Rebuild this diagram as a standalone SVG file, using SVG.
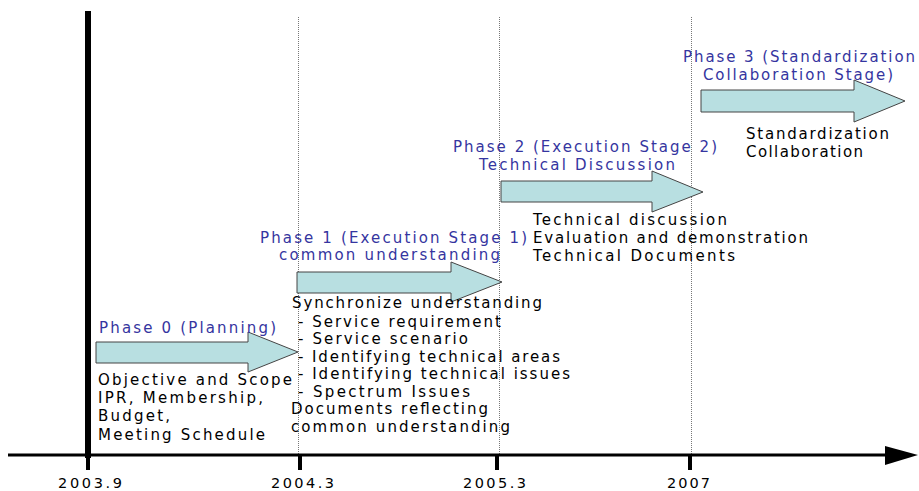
<svg xmlns="http://www.w3.org/2000/svg" width="919" height="491" viewBox="0 0 919 491">
<defs>
<style>
.t{font-family:"DejaVu Sans","Liberation Sans",sans-serif;font-size:15px;fill:#000}
.b{fill:#3535a0}
.d{font-size:14.5px}
.arr{fill:#b8dfe1;stroke:#444;stroke-width:1}
.dot{stroke:#777;stroke-width:1;stroke-dasharray:1 1;fill:none}
</style>
</defs>
<rect width="919" height="491" fill="#fff"/>
<g id="guides">
<line class="dot" x1="298.5" y1="17" x2="298.5" y2="455"/>
<line class="dot" x1="499.5" y1="17" x2="499.5" y2="455"/>
<line class="dot" x1="691.5" y1="17" x2="691.5" y2="455"/>
</g>
<g id="timeline">
<rect x="85" y="11" width="6" height="447" fill="#000"/>
<line x1="8" y1="455" x2="888" y2="455" stroke="#000" stroke-width="3"/>
<polygon points="885,446 918,455 885,465" fill="#000"/>
<rect x="86" y="455" width="4" height="15" fill="#000"/>
<rect x="298" y="455" width="4" height="15" fill="#000"/>
<rect x="495" y="455" width="4" height="15" fill="#000"/>
<rect x="688" y="455" width="4" height="15" fill="#000"/>
<text class="t d" x="58" y="488" textLength="64" lengthAdjust="spacing">2003.9</text>
<text class="t d" x="271" y="488" textLength="63" lengthAdjust="spacing">2004.3</text>
<text class="t d" x="463" y="488" textLength="63" lengthAdjust="spacing">2005.3</text>
<text class="t d" x="667" y="488" textLength="43" lengthAdjust="spacing">2007</text>
</g>
<g id="phase0">
<polygon class="arr" points="96,342 248,342 248,332 298,352 248,372 248,363 96,363"/>
<text class="t b" x="99" y="333" textLength="177" lengthAdjust="spacing">Phase 0 (Planning)</text>
<text class="t" x="98" y="385" textLength="194" lengthAdjust="spacing">Objective and Scope</text>
<text class="t" x="98" y="403" textLength="165" lengthAdjust="spacing">IPR, Membership,</text>
<text class="t" x="98" y="421" textLength="72" lengthAdjust="spacing">Budget,</text>
<text class="t" x="98" y="440" textLength="167" lengthAdjust="spacing">Meeting Schedule</text>
</g>
<g id="phase1">
<polygon class="arr" points="297,272 451,272 451,262 502,282 451,302 451,293 297,293"/>
<text class="t b" x="260" y="243" textLength="267" lengthAdjust="spacing">Phase 1 (Execution Stage 1)</text>
<text class="t b" x="279" y="260" textLength="221" lengthAdjust="spacing">common understanding</text>
<text class="t" x="292" y="308" textLength="250" lengthAdjust="spacing">Synchronize understanding</text>
<text class="t" x="298" y="327" textLength="203" lengthAdjust="spacing">- Service requirement</text>
<text class="t" x="298" y="344" textLength="170" lengthAdjust="spacing">- Service scenario</text>
<text class="t" x="298" y="362" textLength="262" lengthAdjust="spacing">- Identifying technical areas</text>
<text class="t" x="298" y="379" textLength="272" lengthAdjust="spacing">- Identifying technical issues</text>
<text class="t" x="298" y="397" textLength="172" lengthAdjust="spacing">- Spectrum Issues</text>
<text class="t" x="291" y="414" textLength="197" lengthAdjust="spacing">Documents reflecting</text>
<text class="t" x="291" y="432" textLength="219" lengthAdjust="spacing">common understanding</text>
</g>
<g id="phase2">
<polygon class="arr" points="501,181 652,181 652,171 703,192 652,212 652,202 501,202"/>
<text class="t b" x="453" y="152" textLength="264" lengthAdjust="spacing">Phase 2 (Execution Stage 2)</text>
<text class="t b" x="479" y="170" textLength="196" lengthAdjust="spacing">Technical Discussion</text>
<text class="t" x="533" y="225" textLength="194" lengthAdjust="spacing">Technical discussion</text>
<text class="t" x="533" y="243" textLength="275" lengthAdjust="spacing">Evaluation and demonstration</text>
<text class="t" x="533" y="261" textLength="202" lengthAdjust="spacing">Technical Documents</text>
</g>
<g id="phase3">
<polygon class="arr" points="701,90 854,90 854,80 905,101 854,122 854,112 701,112"/>
<text class="t b" x="683" y="62" textLength="232" lengthAdjust="spacing">Phase 3 (Standardization</text>
<text class="t b" x="703" y="80" textLength="190" lengthAdjust="spacing">Collaboration Stage)</text>
<text class="t" x="746" y="139" textLength="143" lengthAdjust="spacing">Standardization</text>
<text class="t" x="746" y="157" textLength="117" lengthAdjust="spacing">Collaboration</text>
</g>
<g id="connectors"></g>
</svg>
